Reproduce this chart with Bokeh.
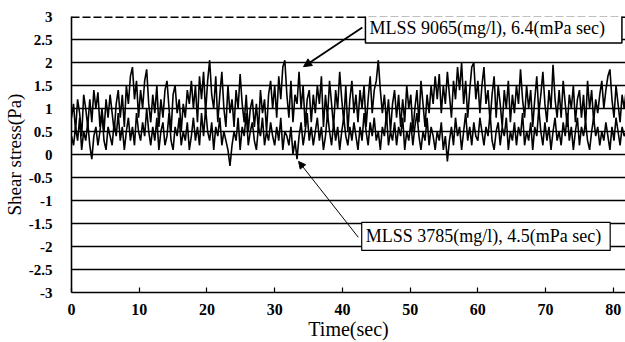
from bokeh.plotting import figure
from bokeh.models import (FixedTicker, Label, Arrow, NormalHead, Range1d, Span)
from bokeh.embed import file_html
from bokeh.resources import INLINE

# ---- data ----
sample_step = 0.3  # seconds between samples

stress_9065 = [
    0.8,1.1,0.5,1.2,0.9,0.4,1.3,1.0,0.6,1.2,0.7,1.4,1.0,1.35,0.6,1.0,0.5,1.2,0.8,1.3,
    0.9,0.5,1.1,1.4,0.8,1.3,0.6,1.5,1.1,1.7,1.9,1.2,1.6,0.8,1.4,1.0,1.6,1.85,1.1,0.7,
    1.3,0.9,1.5,0.6,1.2,0.8,1.4,1.6,1.0,0.5,1.3,1.5,0.9,1.2,0.5,1.1,0.8,1.4,1.1,1.6,
    1.0,1.5,0.7,1.7,1.2,1.8,0.9,1.6,2.05,1.3,1.0,1.7,0.7,1.3,1.8,1.0,0.6,1.5,0.9,1.2,
    0.6,1.4,1.0,1.75,1.1,0.7,1.3,0.5,1.0,1.2,0.6,1.1,0.5,1.4,0.9,1.2,0.5,1.3,1.6,1.0,
    1.5,0.8,1.7,1.2,1.9,2.05,1.3,0.8,1.6,0.7,1.3,1.1,1.8,1.0,1.5,0.6,1.2,1.4,0.7,1.3,
    0.9,1.5,1.1,1.7,0.6,1.3,0.8,1.6,1.1,0.6,1.4,1.0,1.8,1.2,0.7,1.5,0.5,1.2,1.6,0.9,
    1.3,0.7,1.4,1.0,1.5,0.6,1.2,1.7,0.9,1.4,1.6,2.05,1.4,0.9,1.3,0.7,1.2,0.5,1.1,1.4,
    0.8,1.3,0.6,1.2,0.7,1.5,1.0,1.3,0.5,1.0,1.4,0.7,1.6,1.1,0.6,1.3,0.9,1.5,1.1,1.7,
    1.2,1.75,0.9,1.5,1.1,1.8,1.3,0.8,1.6,1.2,1.9,1.4,2.0,1.1,1.6,0.8,1.4,1.9,2.0,1.2,
    1.6,0.9,1.5,1.9,1.1,1.4,0.7,1.3,1.7,0.8,1.5,1.1,0.6,1.4,1.0,1.6,0.7,1.3,0.9,1.5,
    1.1,1.85,1.2,0.8,1.5,1.0,1.4,0.6,1.2,1.7,0.9,1.3,1.8,1.1,0.7,1.4,1.0,1.95,1.2,0.8,
    1.4,0.8,1.6,1.1,0.6,1.3,1.0,1.5,0.7,1.2,1.4,0.8,1.3,0.6,1.6,1.0,1.4,0.7,1.2,0.9,
    1.3,1.6,1.0,1.4,1.7,1.85,1.2,0.8,1.5,1.1,0.7,1.3,1.0,1.4,
]

stress_3785 = [
    0.4,0.2,0.6,0.3,0.8,0.1,0.5,0.3,0.7,0.2,-0.1,0.4,0.6,0.2,0.5,0.9,0.3,0.1,0.6,0.4,
    0.2,0.7,0.4,0.9,0.3,0.6,0.1,0.5,0.8,0.3,0.6,0.2,0.9,0.5,0.3,0.7,0.4,1.0,0.5,0.2,
    0.6,0.3,0.8,0.1,0.5,0.7,0.2,0.4,0.9,0.3,0.1,0.6,0.4,0.8,0.2,0.5,0.3,0.7,0.1,0.4,
    0.8,0.3,0.6,0.2,0.9,0.4,1.0,0.5,0.3,0.7,0.1,0.6,0.4,0.8,0.2,0.5,0.3,0.1,-0.25,0.2,
    0.5,0.3,0.8,0.1,0.6,0.4,0.9,0.2,0.5,0.7,0.3,0.1,0.6,0.4,0.8,0.2,0.5,0.3,0.7,0.4,
    0.2,0.6,0.3,0.8,0.1,0.5,0.4,0.2,0.6,0.0,0.3,-0.1,0.4,0.7,0.2,0.5,0.9,0.3,0.6,0.2,
    0.5,0.8,0.3,0.6,0.1,0.4,0.9,0.5,0.2,0.7,0.3,0.6,0.1,0.5,0.8,0.4,0.2,0.6,0.3,0.7,
    0.4,0.1,0.6,0.3,0.9,0.5,0.2,0.7,0.4,0.8,0.3,0.5,0.1,0.6,0.4,0.9,0.2,0.5,0.3,0.7,
    0.2,0.6,0.4,0.8,0.1,0.5,0.3,0.7,0.2,0.6,0.9,0.4,0.1,0.5,0.3,0.8,0.2,0.6,0.4,0.1,
    0.5,0.3,0.7,0.1,0.4,-0.15,0.3,0.6,0.2,0.8,0.4,0.6,0.1,0.5,0.9,0.3,0.6,0.2,0.7,0.4,
    0.3,0.8,0.5,0.2,0.6,0.4,0.9,0.3,0.1,0.5,0.7,0.2,0.6,0.4,0.8,0.1,0.5,0.3,0.7,0.2,
    0.6,0.4,0.9,0.2,0.5,0.3,0.7,0.1,0.6,0.4,1.0,0.5,0.2,0.7,0.3,0.6,0.1,0.5,0.8,0.3,
    0.5,0.2,0.7,0.4,0.9,0.3,0.6,0.1,0.5,0.8,0.2,0.6,0.4,0.7,0.3,0.1,0.5,0.8,0.4,0.6,
    0.2,0.5,0.3,0.7,0.4,0.1,0.6,0.3,0.8,0.5,0.2,0.6,0.4,0.5,
]

time_9065 = [i * sample_step for i in range(len(stress_9065))]
time_3785 = [i * sample_step for i in range(len(stress_3785))]

x_ticks = [0, 10, 20, 30, 40, 50, 60, 70, 80]
y_ticks = [-3, -2.5, -2, -1.5, -1, -0.5, 0, 0.5, 1, 1.5, 2, 2.5, 3]
y_tick_labels = ["-3", "-2.5", "-2", "-1.5", "-1", "-0.5", "0", "0.5", "1", "1.5", "2", "2.5", "3"]

label_9065 = "MLSS 9065(mg/l), 6.4(mPa sec)"
label_3785 = "MLSS 3785(mg/l), 4.5(mPa sec)"

FONT = "Liberation Serif"

p = figure(width=625, height=342, output_backend="svg", toolbar_location=None,
           x_range=Range1d(0, 81.8), y_range=Range1d(-3, 3),
           min_border_left=69, min_border_right=0, min_border_top=16, min_border_bottom=46)
p.outline_line_color = None
p.background_fill_color = "white"
p.border_fill_color = "white"

# grid lines
p.xgrid.visible = False
p.ygrid.ticker = FixedTicker(ticks=[t for t in y_ticks if -3 < t < 3])
p.ygrid.grid_line_color = "black"
p.ygrid.grid_line_width = 1.7
p.ygrid.grid_line_alpha = 1.0
top_line = Span(location=2.99, dimension="width", line_color="black", line_width=2, line_dash="8 3")
p.add_layout(top_line)

# data
p.line(time_3785, stress_3785, line_color="black", line_width=1.6)
p.line(time_9065, stress_9065, line_color="black", line_width=1.6)

# axes
for ax in (p.xaxis[0], p.yaxis[0]):
    ax.axis_line_color = "black"
    ax.major_tick_line_color = "black"
    ax.major_label_text_color = "black"
    ax.axis_label_text_color = "black"
    ax.axis_line_width = 1.6
    ax.minor_tick_line_color = None

p.xaxis.ticker = FixedTicker(ticks=x_ticks)
p.xaxis.axis_label = "Time(sec)"
p.xaxis.axis_label_text_font = FONT
p.xaxis.axis_label_text_font_style = "normal"
p.xaxis.axis_label_text_font_size = "20px"
p.xaxis.axis_label_standoff = 0
p.xaxis.major_label_text_font = FONT
p.xaxis.major_label_text_font_style = "bold"
p.xaxis.major_label_text_font_size = "16px"
p.xaxis.major_label_standoff = 11
p.xaxis.major_tick_in = 5
p.xaxis.major_tick_out = 0
p.xaxis.major_tick_line_width = 1.2

p.yaxis.ticker = FixedTicker(ticks=y_ticks)
p.yaxis.major_label_overrides = {float(t): s for t, s in zip(y_ticks, y_tick_labels)}
p.yaxis.axis_label = "Shear stress(Pa)"
p.yaxis.axis_label_text_font = FONT
p.yaxis.axis_label_text_font_style = "normal"
p.yaxis.axis_label_text_font_size = "19px"
p.yaxis.axis_label_standoff = 1
p.yaxis.major_label_text_font = FONT
p.yaxis.major_label_text_font_style = "bold"
p.yaxis.major_label_text_font_size = "15px"
p.yaxis.major_label_standoff = 13
p.yaxis.major_tick_line_color = None

# annotations
lab1 = Label(x=43.4, y=2.75, text=label_9065, text_font=FONT, text_font_size="18px",
             text_baseline="middle", text_align="left", text_color="black",
             border_line_color="black", border_line_width=1.5, background_fill_color="white",
             padding=dict(left=4, right=17, top=5, bottom=5))
lab2 = Label(x=42.85, y=-1.78, text=label_3785, text_font=FONT, text_font_size="18px",
             text_baseline="middle", text_align="left", text_color="black",
             border_line_color="black", border_line_width=1.2, background_fill_color="white",
             padding=dict(left=4, right=9, top=4, bottom=4))
p.add_layout(lab1)
p.add_layout(lab2)

arr1 = Arrow(end=NormalHead(size=8, fill_color="black", line_color="black"),
             x_start=42.94, y_start=2.76, x_end=34.26, y_end=1.91,
             line_color="black", line_width=1.8)
arr2 = Arrow(end=NormalHead(size=7, fill_color="black", line_color="black"),
             x_start=42.35, y_start=-1.80, x_end=33.53, y_end=-0.15,
             line_color="black", line_width=1.0)
p.add_layout(arr1)
p.add_layout(arr2)

open("out.html", "w").write(file_html(p, INLINE))
